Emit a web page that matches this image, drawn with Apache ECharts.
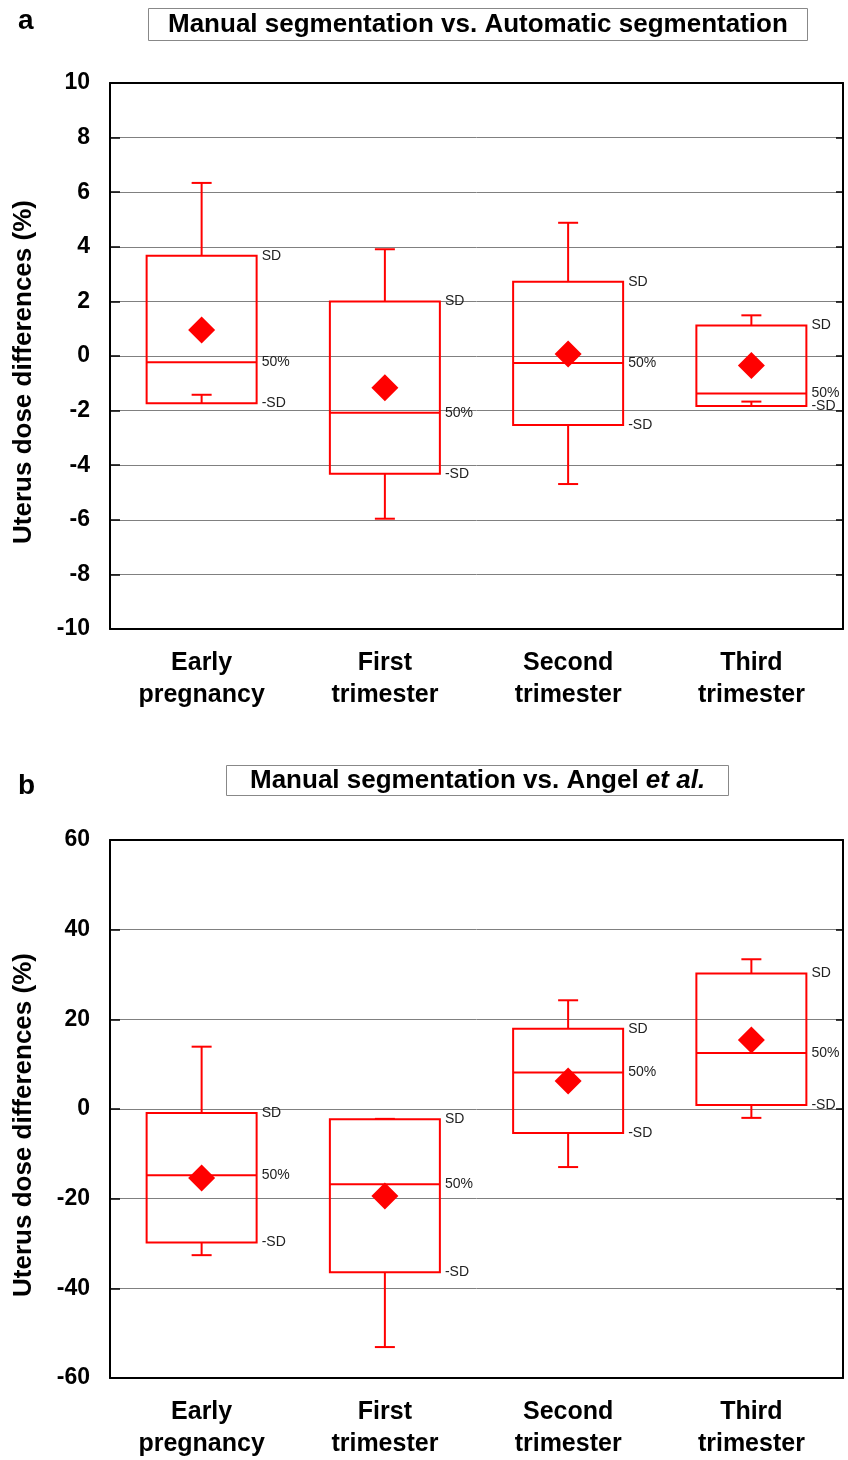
<!DOCTYPE html>
<html>
<head>
<meta charset="utf-8">
<script src="https://cdn.jsdelivr.net/npm/echarts@6/dist/echarts.min.js"></script>
<style>
  html, body { margin: 0; padding: 0; background: #fff; }
  #chart { width: 848px; height: 1460px; }
</style>
</head>
<body>
<div id="chart"></div>
<script>
(function() {
  // categories shared by both panels
  const categories = ['Early\npregnancy', 'First\ntrimester', 'Second\ntrimester', 'Third\ntrimester'];

  // panel a: manual vs automatic segmentation
  const rangeA = [-10, 10];
  const stepA = 2;
  const whiskerLowA = [-1.42, -5.96, -4.69, -1.67];
  const sdLowA = [-1.73, -4.31, -2.53, -1.83];
  const medianA = [-0.23, -2.08, -0.26, -1.37];
  const sdHighA = [3.67, 2.0, 2.72, 1.12];
  const whiskerHighA = [6.34, 3.91, 4.88, 1.49];
  const meanA = [0.95, -1.16, 0.07, -0.35];

  // panel b: manual vs Angel et al.
  const rangeB = [-60, 60];
  const stepB = 20;
  const whiskerLowB = [-32.6, -53.1, -12.95, -1.98];
  const sdLowB = [-29.8, -36.4, -5.37, 0.87];
  const medianB = [-14.8, -16.8, 8.15, 12.5];
  const sdHighB = [-0.88, -2.29, 17.9, 30.2];
  const whiskerHighB = [13.9, -2.2, 24.25, 33.4];
  const meanB = [-15.4, -19.4, 6.24, 15.4];

  const RED = '#ff0000';
  const FONT = "'Liberation Sans', Arial, sans-serif";
  const yName = 'Uterus dose differences (%)';

  const chart = echarts.init(document.getElementById('chart'));

  function boxData(wLow, sdLow, med, sdHigh, wHigh) {
    return categories.map(function(c, i) {
      return [i, wLow[i], sdLow[i], med[i], sdHigh[i], wHigh[i]];
    });
  }

  function renderBox(params, api) {
    const i = api.value(0);
    const cx = api.coord([i, 0])[0];
    const y = function(k) { return api.coord([i, api.value(k)])[1]; };
    const yWL = y(1), ySL = y(2), yMed = y(3), ySH = y(4), yWH = y(5);
    const half = 55, cap = 10;
    const line = function(x1, y1, x2, y2) {
      return { type: 'line', shape: { x1: x1, y1: y1, x2: x2, y2: y2 },
        style: { stroke: RED, lineWidth: 2 } };
    };
    const label = function(t, yy) {
      return { type: 'text', x: cx + half + 5, y: yy,
        style: { text: t, fill: '#222', fontSize: 14, fontFamily: FONT,
          align: 'left', verticalAlign: 'middle' } };
    };
    return {
      type: 'group',
      children: [
        line(cx, ySH, cx, yWH),
        line(cx - cap, yWH, cx + cap, yWH),
        line(cx, ySL, cx, yWL),
        line(cx - cap, yWL, cx + cap, yWL),
        { type: 'rect', shape: { x: cx - half, y: ySH, width: half * 2, height: ySL - ySH },
          style: { fill: 'none', stroke: RED, lineWidth: 2 } },
        line(cx - half, yMed, cx + half, yMed),
        label('SD', ySH),
        label('50%', yMed),
        label('-SD', ySL)
      ]
    };
  }

  function xAxes(gridIndex) {
    const base = {
      type: 'category',
      gridIndex: gridIndex,
      data: categories,
      boundaryGap: true,
      axisLine: { onZero: false, lineStyle: { color: '#000', width: 2 } },
      axisTick: { inside: true, alignWithLabel: true, length: 9, lineStyle: { color: '#000', width: 1.5 } }
    };
    return [
      Object.assign({}, base, {
        position: 'bottom',
        axisLabel: { color: '#000', fontSize: 25, fontWeight: 'bold', fontFamily: FONT,
          lineHeight: 32, margin: 18 }
      }),
      Object.assign({}, base, { position: 'top', axisLabel: { show: false } })
    ];
  }

  function yAxes(gridIndex, range, step) {
    const base = {
      type: 'value',
      gridIndex: gridIndex,
      min: range[0],
      max: range[1],
      interval: step,
      axisLine: { show: true, onZero: false, lineStyle: { color: '#000', width: 2 } }
    };
    return [
      Object.assign({}, base, {
        position: 'left',
        name: yName,
        nameLocation: 'middle',
        nameGap: 73,
        nameTextStyle: { color: '#000', fontSize: 26, fontWeight: 'bold', fontFamily: FONT,
          padding: [0, 32, 0, 0] },
        axisTick: { show: true, inside: true, length: 10, lineStyle: { color: '#000', width: 1.5 } },
        axisLabel: { color: '#000', fontSize: 23, fontWeight: 'bold', fontFamily: FONT, margin: 20 },
        splitLine: { show: true, lineStyle: { color: '#808080', width: 1 } }
      }),
      Object.assign({}, base, {
        position: 'right',
        axisTick: { show: true, inside: true, length: 7, lineStyle: { color: '#000', width: 1.5 } },
        axisLabel: { show: false },
        splitLine: { show: false }
      })
    ];
  }

  const titleText = { color: '#000', fontSize: 26, fontWeight: 'bold', fontFamily: FONT, lineHeight: 29 };

  const option = {
    animation: false,
    title: [
      { text: 'a', left: 13, top: 2, textStyle: { color: '#000', fontSize: 28, fontWeight: 'bold', fontFamily: FONT } },
      { text: 'Manual segmentation vs. Automatic segmentation', left: 148, top: 8,
        padding: [2, 20], borderColor: '#888', borderWidth: 1, textStyle: titleText },
      { text: 'b', left: 13, top: 767, textStyle: { color: '#000', fontSize: 28, fontWeight: 'bold', fontFamily: FONT } },
      { text: '{n|Manual segmentation vs. Angel }{i|et al.}', left: 226, top: 764,
        padding: [2, 24], borderColor: '#888', borderWidth: 1,
        textStyle: { rich: {
          n: titleText,
          i: Object.assign({}, titleText, { fontStyle: 'italic' })
        } } }
    ],
    grid: [
      { left: 110, right: 5, top: 83, height: 546 },
      { left: 110, right: 5, top: 840, height: 545 }
    ],
    xAxis: xAxes(0).concat(xAxes(1)),
    yAxis: yAxes(0, rangeA, stepA).concat(yAxes(1, rangeB, stepB)),
    series: [
      {
        type: 'custom',
        xAxisIndex: 0,
        yAxisIndex: 0,
        renderItem: renderBox,
        encode: { x: 0, y: [1, 2, 3, 4, 5] },
        data: boxData(whiskerLowA, sdLowA, medianA, sdHighA, whiskerHighA),
        z: 2
      },
      {
        type: 'scatter',
        xAxisIndex: 0,
        yAxisIndex: 0,
        symbol: 'diamond',
        symbolSize: 27,
        itemStyle: { color: RED, opacity: 1 },
        data: meanA.map(function(v, i) { return [i, v]; }),
        z: 3
      },
      {
        type: 'custom',
        xAxisIndex: 2,
        yAxisIndex: 2,
        renderItem: renderBox,
        encode: { x: 0, y: [1, 2, 3, 4, 5] },
        data: boxData(whiskerLowB, sdLowB, medianB, sdHighB, whiskerHighB),
        z: 2
      },
      {
        type: 'scatter',
        xAxisIndex: 2,
        yAxisIndex: 2,
        symbol: 'diamond',
        symbolSize: 27,
        itemStyle: { color: RED, opacity: 1 },
        data: meanB.map(function(v, i) { return [i, v]; }),
        z: 3
      }
    ]
  };
  chart.setOption(option);
}());
</script>
</body>
</html>
